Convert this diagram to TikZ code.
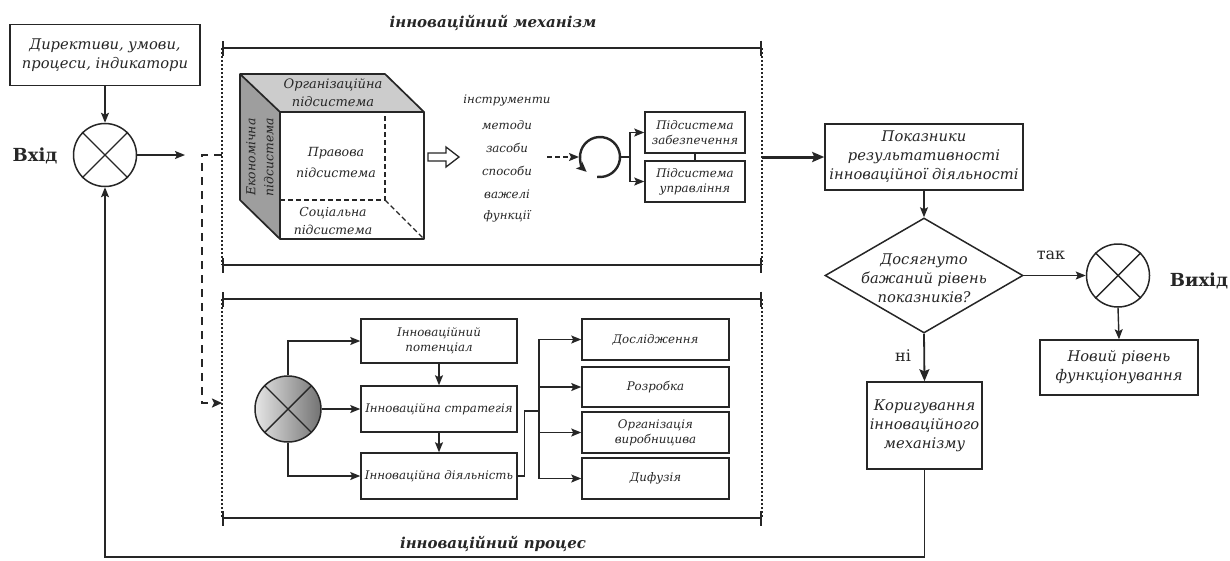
\documentclass[tikz,border=0pt]{standalone}
\usepackage{fontspec}
\setmainfont{DejaVu Serif}
\usetikzlibrary{arrows.meta,shapes.geometric,calc}
\definecolor{ink}{HTML}{262626}
\begin{document}
\begin{tikzpicture}[x=1pt,y=-1pt,
  ln/.style={line width=1.4pt,draw=ink},
  arr/.style={ln,-{Stealth[length=10pt,width=8pt,inset=2pt]}},
  box/.style={draw=ink,line width=1.5pt,fill=white,align=center,inner sep=1pt,text=ink,
    font=\itshape\fontsize{14.7}{19}\selectfont},
  sbox/.style={box,font=\itshape\fontsize{11.8}{15}\selectfont},
  sumc/.style={circle,draw=ink,line width=1.5pt,minimum size=63pt,inner sep=0pt},
  bracket/.style={line width=2.8pt,draw=ink,arrows={Bar[width=15pt,line width=2.2pt]-Bar[width=15pt,line width=2.2pt]}},
  dotv/.style={draw=ink,line width=1.5pt,dash pattern=on 2pt off 2pt},
  lbl/.style={text=ink,font=\itshape\fontsize{11.8}{15}\selectfont},
  clbl/.style={text=ink,align=center,font=\itshape\fontsize{12.4}{18}\selectfont},
  ttl/.style={text=ink,font=\bfseries\itshape\fontsize{15}{17}\selectfont},
  io/.style={text=ink,font=\bfseries\fontsize{18}{20}\selectfont},
  yn/.style={text=ink,font=\fontsize{16}{18}\selectfont}]
\useasboundingbox (0,0) rectangle (1230,560);

% ---------- input ----------
\node[box,minimum width=190pt,minimum height=61pt] (dir) at (105,55) {Директиви, умови,\\процеси, індикатори};
\node[sumc] (vh) at (105,155) {};
\draw[ln] (vh.45) -- (vh.225) (vh.135) -- (vh.315);
\node[io] (vhl) at (35,156) {Вхід};
\draw[arr] (dir.south) -- (vh.north);
\coordinate (vhout) at (185,155);
\draw[arr] (vh.east) -- (vhout);

% ---------- mechanism bracket ----------
\coordinate (mTL) at (222,48);
\coordinate (mTR) at (762,48);
\coordinate (mBL) at (222,265);
\coordinate (mBR) at (762,265);
\draw[dotv] (mTL) -- (mBL);
\draw[dotv] (mTR) -- (mBR);
\draw[bracket] (mTL) -- (mTR);
\draw[bracket] (mBL) -- (mBR);
\node[ttl] (mttl) at (493,23) {інноваційний механізм};

% ---------- cube ----------
\fill[black!20] (240,74) -- (385,74) -- (424,112) -- (280,112) -- cycle;
\fill[black!38] (240,74) -- (280,112) -- (280,239) -- (240,200) -- cycle;
\draw[ink,line width=1.4pt,dash pattern=on 5pt off 3pt] (280,200) -- (385,200) -- (385,112);
\draw[ink,line width=1.4pt,dash pattern=on 5pt off 3pt] (385,200) -- (424,239);
\draw[ink,line width=1.7pt,line join=round] (240,74) -- (385,74) -- (424,112) -- (424,239) -- (280,239) -- (240,200) -- cycle;
\draw[ink,line width=1.7pt,line join=round] (240,74) -- (280,112) -- (424,112);
\draw[ink,line width=1.7pt] (280,112) -- (280,239);
\node[clbl,font=\itshape\fontsize{13}{18}\selectfont] (org) at (333,93) {Організаційна\\підсистема};
\node[clbl,font=\itshape\fontsize{12.6}{21}\selectfont] (prav) at (336,162) {Правова\\підсистема};
\node[clbl] (soc) at (333,221) {Соціальна\\підсистема};
\node[clbl,rotate=90] (eko) at (260,157) {Економічна\\підсистема};

% hollow arrow
\draw[ink,line width=1.3pt,fill=white,line join=miter] (428,153) -- (446,153) -- (446,147) -- (459,157) -- (446,167) -- (446,161) -- (428,161) -- cycle;

% tools list
\node[lbl] (t1) at (507,100) {інструменти};
\node[lbl] (t2) at (507,125) {методи};
\node[lbl] (t3) at (507,148) {засоби};
\node[lbl] (t4) at (507,171) {способи};
\node[lbl] (t5) at (507,194) {важелі};
\node[lbl] (t6) at (507,216) {функції};

% cycle
\coordinate (cyc) at (600,157);
\coordinate (dstart) at (547,157);
\coordinate (cycl) at (579,157);
\draw[arr,line width=1.8pt,dash pattern=on 5pt off 3pt] (dstart) -- (cycl);
\draw[ink,line width=2.4pt,-{Stealth[length=10pt,width=9pt,inset=2pt]}] ($(cyc)+(98:20)$) arc[start angle=98,end angle=-228,radius=20];

% subsystems
\node[sbox,minimum width=100pt,minimum height=41pt] (zab) at (695,132.5) {Підсистема\\забезпечення};
\node[sbox,minimum width=100pt,minimum height=41pt] (upr) at (695,181.5) {Підсистема\\управління};
\draw[ln] (zab.south) -- (upr.north);
\coordinate (cycr) at (621,157);
\coordinate (fork) at (630,157);
\draw[ln] (cycr) -- (fork);
\draw[arr] (fork) |- (zab.west);
\draw[arr] (fork) |- (upr.west);

% ---------- output chain ----------
\coordinate (mR) at (762,157);
\node[box,minimum width=198pt,minimum height=66pt] (pok) at (924,157) {Показники\\результативності\\інноваційної діяльності};
\draw[ink,line width=3pt,-{Stealth[length=12pt,width=10pt,inset=2pt]}] (mR) -- (pok.west);
\node[diamond,draw=ink,line width=1.5pt,minimum width=198pt,minimum height=115pt,inner sep=0pt] (dia) at (924,275.5) {};
\node[box,draw=none,fill=none] (diat) at (924,278) {Досягнуто\\бажаний рівень\\показників?};
\draw[arr] (pok.south) -- (dia.north);
\node[sumc] (vy) at (1118,275.5) {};
\draw[ln] (vy.45) -- (vy.225) (vy.135) -- (vy.315);
\node[io] (vyl) at (1199,281) {Вихід};
\draw[arr] (dia.east) -- (vy.west);
\node[yn] (tak) at (1051,255) {так};
\node[box,minimum width=158pt,minimum height=55pt] (nov) at (1119,367.5) {Новий рівень\\функціонування};
\draw[arr] (vy.south) -- (nov.north);
\node[yn] (ni) at (903,356) {ні};
\node[box,minimum width=115pt,minimum height=87pt] (kor) at (924.5,425.5) {Коригування\\інноваційного\\механізму};
\draw[arr,line width=1.8pt,-{Stealth[length=12pt,width=10pt,inset=2pt]}] (dia.south) -- (kor.north);
\coordinate (fb) at (105,557);
\draw[arr] (kor.south) |- (fb) -- (vh.south);

% ---------- process bracket ----------
\coordinate (pTL) at (222,299);
\coordinate (pTR) at (762,299);
\coordinate (pBL) at (222,518);
\coordinate (pBR) at (762,518);
\draw[dotv] (pTL) -- (pBL);
\draw[dotv] (pTR) -- (pBR);
\draw[bracket] (pTL) -- (pTR);
\draw[bracket] (pBL) -- (pBR);
\node[ttl] (pttl) at (493,544) {інноваційний процес};

% dashed link from input to process
\coordinate (dtop) at (222,155);
\coordinate (pin) at (222,403);
\draw[ink,line width=2.4pt,dash pattern=on 8pt off 6pt,-{Stealth[length=10pt,width=9pt,inset=2pt]}] (dtop) -- (202,155) -- (202,403) -- (pin);

% process contents
\node[sumc,minimum size=66pt,left color=black!10,right color=black!55] (pc) at (288,409) {};
\draw[ln] (pc.45) -- (pc.225) (pc.135) -- (pc.315);
\node[sbox,minimum width=156pt,minimum height=44pt] (p1) at (439,341) {Інноваційний\\потенціал};
\node[sbox,minimum width=156pt,minimum height=46pt] (p2) at (439,409) {Інноваційна стратегія};
\node[sbox,minimum width=156pt,minimum height=46pt] (p3) at (439,476) {Інноваційна діяльність};
\draw[arr] (pc.north) |- (p1.west);
\draw[arr] (pc.east) -- (p2.west);
\draw[arr] (pc.south) |- (p3.west);
\draw[arr] (p1.south) -- (p2.north);
\draw[arr] (p2.south) -- (p3.north);

\node[sbox,minimum width=147pt,minimum height=41pt] (r1) at (655.5,339.5) {Дослідження};
\node[sbox,minimum width=147pt,minimum height=40pt] (r2) at (655.5,387) {Розробка};
\node[sbox,minimum width=147pt,minimum height=41pt] (r3) at (655.5,432.5) {Організація\\виробницива};
\node[sbox,minimum width=147pt,minimum height=41pt] (r4) at (655.5,478.5) {Дифузія};
\coordinate (jn) at (539,411);
\draw[ln] (p3.east) -- ++(7,0) |- (jn);
\draw[arr] (jn) |- (r1.west);
\draw[arr] (jn) |- (r2.west);
\draw[arr] (jn) |- (r3.west);
\draw[arr] (jn) |- (r4.west);
\end{tikzpicture}
\end{document}
